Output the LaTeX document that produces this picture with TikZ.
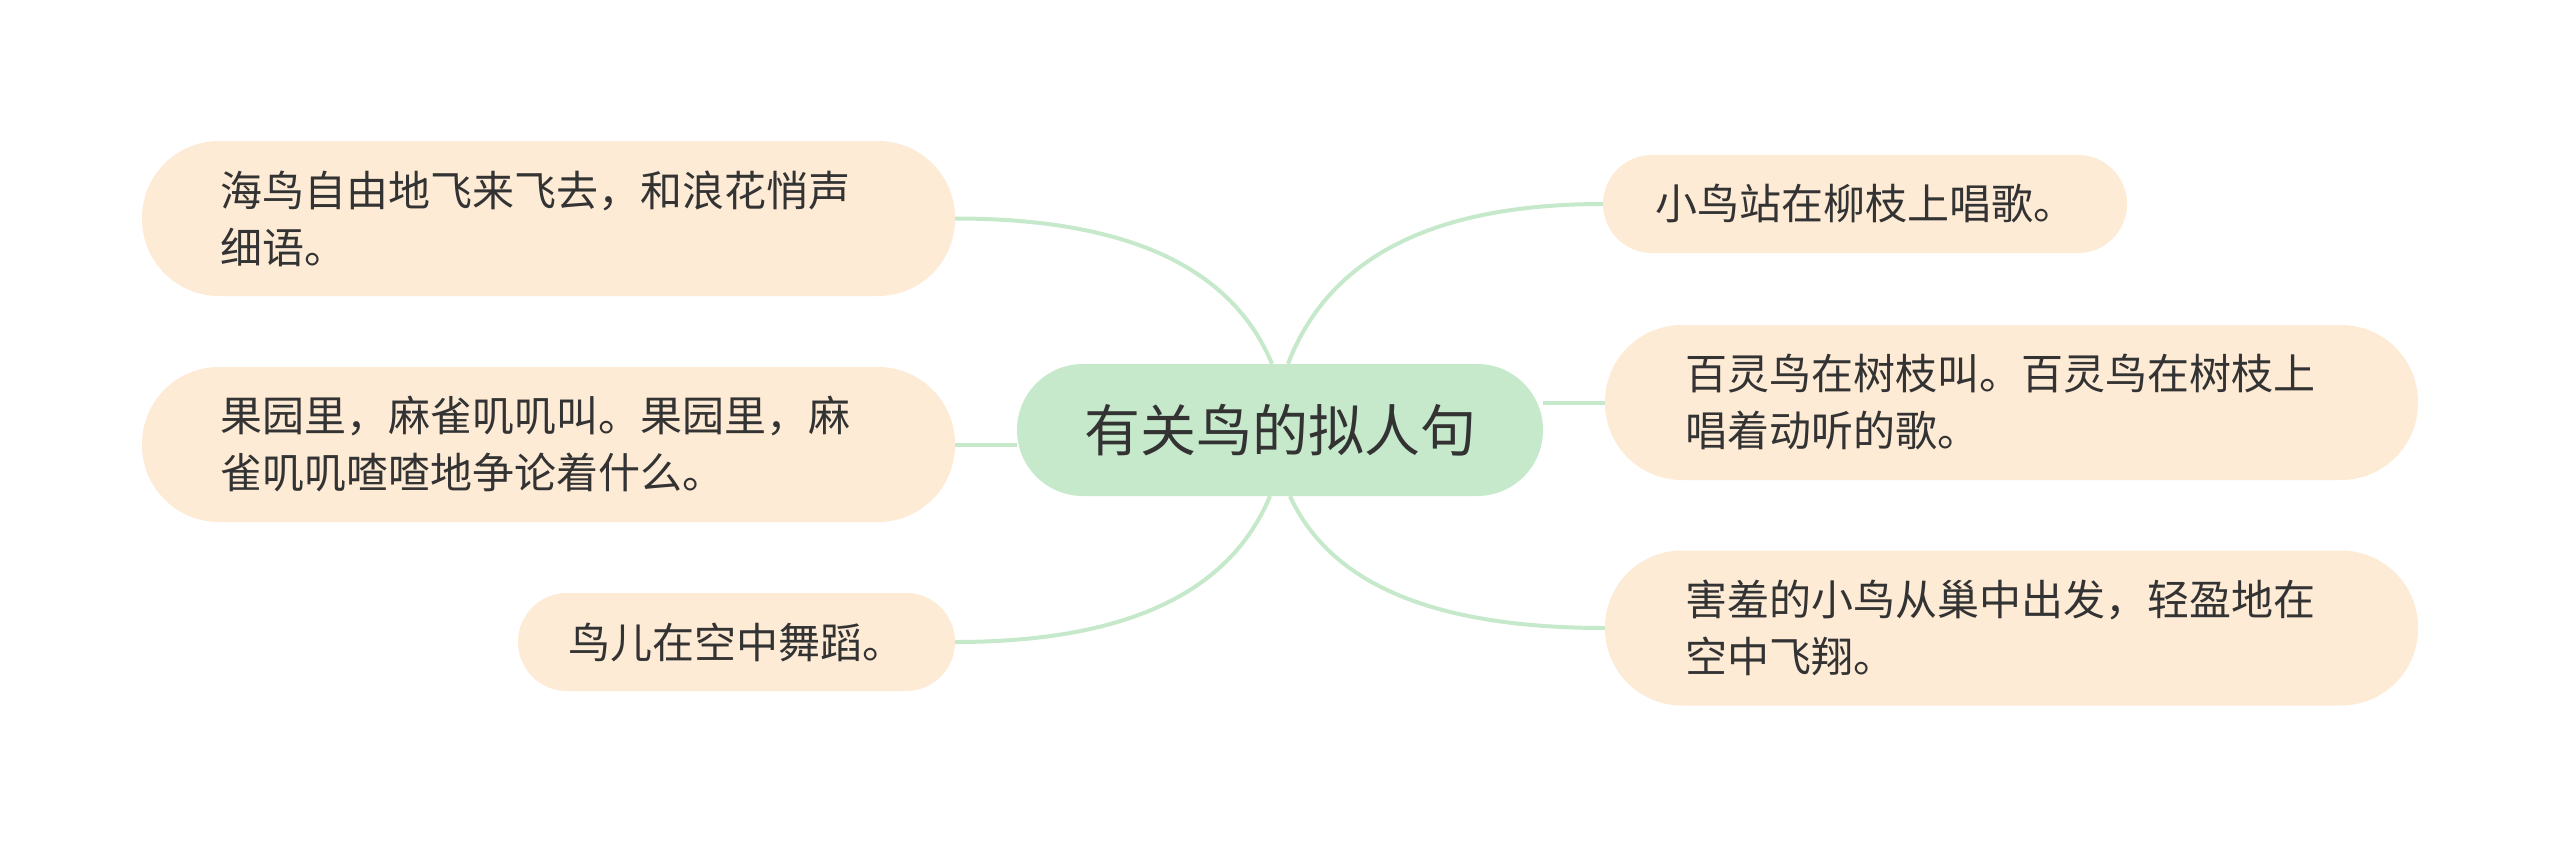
\documentclass[tikz,border=0pt]{standalone}
\usepackage{fontspec}
\newfontfamily\cjk{Noto Sans CJK SC}
\usetikzlibrary{backgrounds}
\definecolor{rootfill}{RGB}{197,233,202}
\definecolor{linkc}{RGB}{197,233,202}
\definecolor{leaffill}{RGB}{253,235,214}
\definecolor{txt}{RGB}{51,51,51}
\tikzset{
  rootbox/.style={rectangle, rounded corners=66pt, fill=rootfill, minimum width=526pt, minimum height=132pt, inner sep=0pt, font=\cjk\fontsize{56}{66}\selectfont, text=txt},
  leafbox/.style={rectangle, fill=leaffill, inner sep=0pt, font=\cjk\fontsize{42}{57}\selectfont, text=txt},
  twoline/.style={leafbox, rounded corners=77pt, minimum width=813pt, minimum height=155pt, align=left},
  oneline/.style={leafbox, rounded corners=49pt, minimum height=98pt, align=center},
  link/.style={draw=linkc, line width=4pt}
}
\begin{document}
\begin{tikzpicture}[x=1pt,y=-1pt]
\useasboundingbox (0,0) rectangle (2560,847);
\node[rootbox] (c) at (1280,430) {有关鸟的拟人句};
\node[twoline, text width=657pt] (l1) at (548.5,218.5) {海鸟自由地飞来飞去，和浪花悄声\\细语。};
\node[twoline, text width=657pt] (l2) at (548.5,444.5) {果园里，麻雀叽叽叫。果园里，麻\\雀叽叽喳喳地争论着什么。};
\node[oneline, minimum width=437pt] (l3) at (736.5,642) {鸟儿在空中舞蹈。};
\node[oneline, minimum width=524pt] (r1) at (1865,204) {小鸟站在柳枝上唱歌。};
\node[twoline, text width=653pt] (r2) at (2011.5,402.5) {百灵鸟在树枝叫。百灵鸟在树枝上\\唱着动听的歌。};
\node[twoline, text width=653pt] (r3) at (2011.5,628) {害羞的小鸟从巢中出发，轻盈地在\\空中飞翔。};
\begin{pgfonlayer}{background}
\fill[white] (0,0) rectangle (2560,847);
\draw[link] ([xshift=-8pt]c.north) .. controls +(-41,-98) and +(170,0) .. (l1.east);
\draw[link] ([xshift=8pt]c.north) .. controls +(41,-107) and +(-169,0) .. (r1.west);
\draw[link] ([xshift=-10pt]c.south) .. controls +(-41,98) and +(169,0) .. (l3.east);
\draw[link] ([xshift=10pt]c.south) .. controls +(41,89) and +(-169,0) .. (r3.west);
\draw[link] (l2.east) -- (l2.east -| c.west);
\draw[link] (r2.west -| c.east) -- (r2.west);
\end{pgfonlayer}
\end{tikzpicture}
\end{document}
